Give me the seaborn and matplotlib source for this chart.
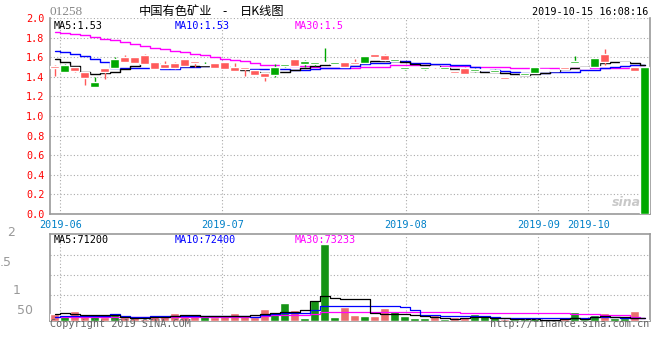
import numpy as np
import pandas as pd
import seaborn as sns
import matplotlib.pyplot as plt

sns.set_style("white")
plt.rcParams['font.family'] = ['DejaVu Sans Mono', 'Noto Sans CJK SC']

# 01258 daily K, 60 sessions up to 2019-10-15
opens = [1.49, 1.52, 1.46, 1.39, 1.35, 1.45, 1.58, 1.55, 1.54, 1.53,
         1.48, 1.49, 1.49, 1.51, 1.54, 1.53, 1.49, 1.48, 1.46, 1.48,
         1.42, 1.40, 1.50, 1.53, 1.51, 1.56, 1.55, 1.55, 1.55, 1.50,
         1.53, 1.61, 1.60, 1.57, 1.58, 1.50, 1.49, 1.50, 1.50, 1.50,
         1.44, 1.43, 1.48, 1.48, 1.47, 1.38, 1.39, 1.44, 1.50, 1.48,
         1.47, 1.48, 1.56, 1.50, 1.59, 1.55, 1.59, 1.55, 1.46, 1.50]
closes = [1.51, 1.45, 1.50, 1.45, 1.30, 1.49, 1.49, 1.60, 1.60, 1.62,
          1.55, 1.53, 1.54, 1.58, 1.56, 1.52, 1.54, 1.55, 1.50, 1.50,
          1.47, 1.44, 1.42, 1.515, 1.58, 1.53, 1.53, 1.54, 1.53, 1.55,
          1.55, 1.54, 1.63, 1.62, 1.56, 1.48, 1.48, 1.48, 1.51, 1.48,
          1.46, 1.49, 1.46, 1.47, 1.45, 1.40, 1.38, 1.42, 1.44, 1.47,
          1.46, 1.50, 1.54, 1.49, 1.50, 1.63, 1.58, 1.54, 1.50, 0.00]
highs = [1.52, 1.53, 1.50, 1.45, 1.40, 1.49, 1.60, 1.62, 1.60, 1.63,
         1.55, 1.56, 1.55, 1.58, 1.56, 1.55, 1.54, 1.55, 1.54, 1.50,
         1.47, 1.44, 1.53, 1.53, 1.58, 1.57, 1.55, 1.69, 1.55, 1.55,
         1.58, 1.61, 1.63, 1.63, 1.58, 1.50, 1.49, 1.50, 1.51, 1.50,
         1.46, 1.50, 1.49, 1.48, 1.48, 1.40, 1.39, 1.44, 1.50, 1.48,
         1.47, 1.50, 1.61, 1.50, 1.59, 1.68, 1.59, 1.55, 1.50, 1.50]
lows = [1.41, 1.45, 1.45, 1.32, 1.30, 1.38, 1.49, 1.55, 1.54, 1.53,
        1.48, 1.49, 1.475, 1.51, 1.50, 1.52, 1.49, 1.48, 1.46, 1.41,
        1.42, 1.36, 1.40, 1.50, 1.51, 1.50, 1.51, 1.54, 1.53, 1.50,
        1.53, 1.54, 1.60, 1.56, 1.56, 1.47, 1.48, 1.47, 1.49, 1.48,
        1.44, 1.43, 1.45, 1.47, 1.45, 1.38, 1.38, 1.42, 1.44, 1.47,
        1.46, 1.48, 1.54, 1.49, 1.50, 1.52, 1.58, 1.54, 1.46, 0.00]
ma5 = [1.586, 1.553, 1.508, 1.444, 1.427, 1.434, 1.451, 1.475, 1.508, 1.536,
       1.532, 1.522, 1.512, 1.508, 1.515, 1.512, 1.512, 1.50, 1.485, 1.468,
       1.451, 1.434, 1.451, 1.454, 1.468, 1.485, 1.508, 1.525, 1.536, 1.536,
       1.532, 1.546, 1.559, 1.563, 1.563, 1.546, 1.529, 1.519, 1.508, 1.49,
       1.475, 1.468, 1.464, 1.451, 1.444, 1.434, 1.424, 1.417, 1.424, 1.434,
       1.458, 1.475, 1.49, 1.50, 1.519, 1.536, 1.546, 1.546, 1.536, 1.525]
ma10 = [1.668, 1.651, 1.634, 1.614, 1.586, 1.546, 1.491, 1.49, 1.49, 1.488,
        1.485, 1.478, 1.478, 1.50, 1.505, 1.512, 1.512, 1.49, 1.49, 1.48,
        1.48, 1.475, 1.475, 1.475, 1.468, 1.468, 1.475, 1.485, 1.49, 1.49,
        1.508, 1.529, 1.542, 1.542, 1.559, 1.559, 1.539, 1.539, 1.529, 1.529,
        1.519, 1.519, 1.50, 1.468, 1.468, 1.458, 1.444, 1.434, 1.434, 1.434,
        1.447, 1.447, 1.447, 1.468, 1.468, 1.485, 1.50, 1.515, 1.525, 1.525]
ma30 = [1.858, 1.847, 1.836, 1.824, 1.807, 1.79, 1.773, 1.753, 1.732, 1.712,
        1.696, 1.68, 1.664, 1.65, 1.635, 1.62, 1.603, 1.586, 1.572, 1.559,
        1.542, 1.525, 1.522, 1.519, 1.515, 1.512, 1.50, 1.49, 1.49, 1.49,
        1.485, 1.498, 1.498, 1.505, 1.519, 1.519, 1.519, 1.519, 1.508, 1.508,
        1.508, 1.508, 1.495, 1.495, 1.495, 1.495, 1.487, 1.487, 1.487, 1.487,
        1.487, 1.487, 1.487, 1.487, 1.487, 1.487, 1.49, 1.49, 1.495, 1.50]

# volume in shares
volumes = [175000, 120000, 250000, 140000, 125000, 110000, 170000, 110000, 90000, 60000,
           140000, 140000, 200000, 150000, 150000, 150000, 110000, 140000, 200000, 140000,
           100000, 300000, 175000, 450000, 275000, 75000, 525000, 1925000, 90000, 350000,
           150000, 125000, 125000, 325000, 250000, 125000, 75000, 75000, 140000, 60000,
           100000, 100000, 180000, 150000, 125000, 50000, 60000, 60000, 100000, 50000,
           40000, 100000, 225000, 60000, 160000, 200000, 75000, 75000, 250000, 25000]
vol_ma5 = [180000, 210000, 180000, 140000, 140000, 140000, 140000, 110000, 80000, 80000,
           110000, 110000, 125000, 140000, 140000, 125000, 117000, 125000, 125000, 125000,
           150000, 175000, 210000, 225000, 225000, 270000, 490000, 625000, 575000, 560000,
           560000, 550000, 200000, 167000, 167000, 167000, 140000, 125000, 90000, 75000,
           60000, 75000, 90000, 90000, 75000, 75000, 60000, 50000, 50000, 33000,
           33000, 50000, 75000, 60000, 110000, 125000, 110000, 90000, 75000, 71200]
vol_ma10 = [110000, 115000, 115000, 115000, 115000, 115000, 165000, 130000, 110000, 110000,
            115000, 115000, 115000, 115000, 115000, 115000, 115000, 115000, 115000, 115000,
            110000, 140000, 165000, 190000, 190000, 190000, 280000, 370000, 380000, 385000,
            385000, 385000, 385000, 385000, 385000, 340000, 280000, 160000, 140000, 115000,
            115000, 115000, 115000, 115000, 90000, 75000, 75000, 75000, 75000, 75000,
            75000, 75000, 75000, 75000, 90000, 90000, 90000, 72400, 72400, 72400]
vol_ma30 = [90000, 90000, 90000, 90000, 90000, 90000, 110000, 110000, 110000, 110000,
            110000, 110000, 110000, 110000, 110000, 110000, 110000, 110000, 110000, 110000,
            110000, 115000, 140000, 140000, 140000, 140000, 175000, 215000, 215000, 215000,
            215000, 215000, 215000, 215000, 215000, 215000, 215000, 215000, 215000, 215000,
            215000, 190000, 190000, 190000, 190000, 190000, 190000, 190000, 190000, 190000,
            190000, 190000, 167000, 167000, 167000, 142000, 142000, 142000, 90000, 73233]

date_pos = [0.58, 16.78, 35.12, 48.38, 53.38]
date_labels = ["2019-06", "2019-07", "2019-08", "2019-09", "2019-10"]

RED = "#ff5a5a"
GREEN = "#00a800"
GRID = "#aaaaaa"
FRAME = "#999999"

df = pd.DataFrame({"open": opens, "close": closes, "high": highs, "low": lows,
                   "vol": np.array(volumes) / 1e6})
df["idx"] = np.arange(len(df))
df["dir"] = np.where(df["close"] >= df["open"], "up", "down")
colors = df["dir"].map({"up": RED, "down": GREEN})

fig = plt.figure(figsize=(6.6, 3.6), dpi=100)
ax1 = fig.add_axes([50 / 660, 1 - 214 / 360, 600 / 660, 196 / 360])
ax2 = fig.add_axes([50 / 660, 1 - 321 / 360, 600 / 660, 87 / 360])

# moving averages, then candles on top
for vals, c in [(ma30, "#ff00ff"), (ma10, "#0000ff"), (ma5, "black")]:
    sns.lineplot(x=df["idx"], y=vals, color=c, lw=1.0, drawstyle="steps-mid", ax=ax1, zorder=3)

body_lo = df[["open", "close"]].min(axis=1)
body_h = np.maximum((df["open"] - df["close"]).abs(), 0.006)
ax1.vlines(df["idx"], df["low"], df["high"], colors=colors, lw=1, zorder=4)
ax1.bar(df["idx"], body_h, bottom=body_lo, width=0.9, color=colors, zorder=5)

ax1.set_xlim(-0.45, 59.55)
ax1.set_ylim(0, 2.0)
ax1.set_yticks(np.arange(0, 2.01, 0.2))
ax1.set_yticklabels([f"{v:.1f}" for v in np.arange(0, 2.01, 0.2)], color="red", fontsize=7.3)
ax1.set_xticks(date_pos)
ax1.set_xticklabels(date_labels, color="#0080c8", fontsize=7.3)
ax1.tick_params(axis="both", length=2, pad=2, color=FRAME)
ax1.grid(True, color=GRID, ls=(0, (1, 2)), lw=0.8)
ax1.set_xlabel("")
ax1.set_ylabel("")

ax1.text(0.006, 0.985, "MA5:1.53", transform=ax1.transAxes, color="black", fontsize=7.3, va="top")
ax1.text(0.207, 0.985, "MA10:1.53", transform=ax1.transAxes, color="#0000ff", fontsize=7.3, va="top")
ax1.text(0.408, 0.985, "MA30:1.5", transform=ax1.transAxes, color="#ff00ff", fontsize=7.3, va="top")
ax1.text(0.985, 0.04, "sina", transform=ax1.transAxes, color="#bbbbbb", fontsize=9,
         style="italic", weight="bold", ha="right", family="DejaVu Sans", alpha=0.8)

# volume
sns.barplot(data=df, x="idx", y="vol", hue="dir", palette={"up": RED, "down": GREEN},
            native_scale=True, dodge=False, width=0.9, legend=False, ax=ax2, zorder=3)
for vals, c in [(vol_ma30, "#ff00ff"), (vol_ma10, "#0000ff"), (vol_ma5, "black")]:
    sns.lineplot(x=df["idx"], y=np.array(vals) / 1e6, color=c, lw=0.9, drawstyle="steps-mid", ax=ax2, zorder=4)

ax2.set_xlim(-0.45, 59.55)
ax2.set_ylim(0, 2.17)
ax2.set_xticks(date_pos)
ax2.set_xticklabels([])
ax2.set_yticks([0.64, 1.14, 1.64])
ax2.set_yticklabels([])
ax2.tick_params(axis="both", length=0)
ax2.grid(True, color=GRID, ls=(0, (1, 2)), lw=0.8)
ax2.set_xlabel("")
ax2.set_ylabel("")

ax2.text(0.006, 0.99, "MA5:71200", transform=ax2.transAxes, color="black", fontsize=7.3, va="top")
ax2.text(0.207, 0.99, "MA10:72400", transform=ax2.transAxes, color="#0000ff", fontsize=7.3, va="top")
ax2.text(0.408, 0.99, "MA30:73233", transform=ax2.transAxes, color="#ff00ff", fontsize=7.3, va="top")

for ax in (ax1, ax2):
    for side in ["left", "right", "bottom", "top"]:
        ax.spines[side].set_color(FRAME)
        ax.spines[side].set_linewidth(1.2)
ax1.spines["top"].set_visible(False)

# volume axis labels as shown
for txt, x, y in [("2", 7, 232), (".5", 0, 262), ("1", 13, 290), ("50", 17, 310)]:
    fig.text(x / 660, 1 - y / 360, txt, color="#999999", fontsize=9, va="center", family="DejaVu Sans")

cjk = ["Noto Sans CJK SC", "DejaVu Sans"]
fig.text(50 / 660, 1 - 12 / 360, "01258", color="#888888", fontsize=9.5, va="center", family="Liberation Serif")
fig.text(175.5 / 660, 1 - 12 / 360, "中国有色矿业", color="black", fontsize=8.8, va="center", ha="center", family=cjk)
fig.text(225 / 660, 1 - 12 / 360, "-", color="black", fontsize=8.8, va="center", ha="center", family=cjk)
fig.text(262 / 660, 1 - 12 / 360, "日K线图", color="black", fontsize=8.8, va="center", ha="center", family=cjk)
fig.text(648 / 660, 1 - 12 / 360, "2019-10-15 16:08:16", color="black", fontsize=7.3, va="center", ha="right")
fig.text(50 / 660, 1 - 324 / 360, "Copyright 2019 SINA.COM", color="#666666", fontsize=7.3, va="center")
fig.text(649 / 660, 1 - 324 / 360, "http://finance.sina.com.cn", color="#666666", fontsize=7.3, va="center", ha="right")

fig.savefig("out.png", dpi=100)
